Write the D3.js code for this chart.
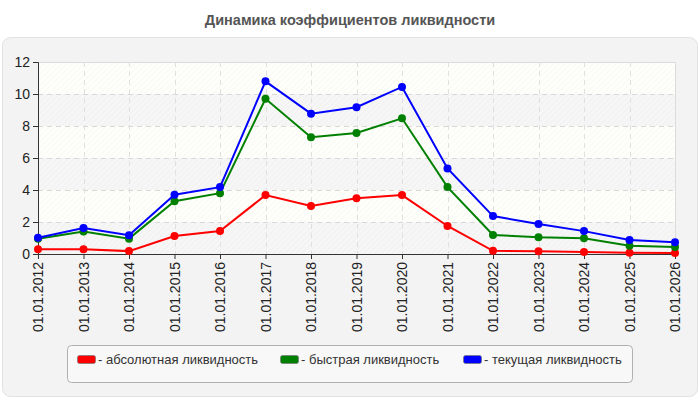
<!DOCTYPE html>
<html><head><meta charset="utf-8">
<script src="https://cdn.jsdelivr.net/npm/d3@7"></script>
<style>body{margin:0;background:#fff}svg{display:block;font-family:Arial,"Liberation Sans",sans-serif}</style>
</head><body><svg id="c" width="700" height="400"></svg>
<script>
const categories = ["01.01.2012","01.01.2013","01.01.2014","01.01.2015","01.01.2016","01.01.2017","01.01.2018","01.01.2019","01.01.2020","01.01.2021","01.01.2022","01.01.2023","01.01.2024","01.01.2025","01.01.2026"];
const absoluteLiq = [0.30,0.30,0.18,1.12,1.44,3.68,3.00,3.48,3.68,1.75,0.20,0.17,0.12,0.08,0.06];
const quickLiq    = [0.96,1.40,0.96,3.30,3.80,9.70,7.30,7.56,8.48,4.18,1.19,1.04,0.98,0.52,0.44];
const currentLiq  = [1.02,1.62,1.17,3.70,4.18,10.79,8.77,9.17,10.44,5.35,2.37,1.87,1.43,0.87,0.74];
const yTicks = [0,2,4,6,8,10,12];
const seriesNames = ["- абсолютная ликвидность","- быстрая ликвидность","- текущая ликвидность"];
const seriesColors = ["#ff0000","#008000","#0000ff"];
const title = "Динамика коэффициентов ликвидности";

const svg = d3.select("#c");
const L = 38, R = 675, T = 62, B = 254;
const FF = "Arial,'Liberation Sans',sans-serif";

const defs = svg.append("defs");
function hatch(id, bg, line){
  const p = defs.append("pattern").attr("id", id).attr("patternUnits","userSpaceOnUse")
    .attr("width",4).attr("height",4).attr("patternTransform","rotate(45)");
  p.append("rect").attr("width",4).attr("height",4).attr("fill",bg);
  p.append("line").attr("x1",0).attr("y1",0).attr("x2",0).attr("y2",4).attr("stroke",line).attr("stroke-width",1);
}
hatch("hA","#fefefa","#f5f5ee");
hatch("hB","#f6f6f6","#ececec");

// panel
svg.append("rect").attr("x",2.5).attr("y",37.5).attr("width",695).attr("height",359).attr("rx",8)
  .attr("fill","#f3f3f3").attr("stroke","#e2e2e2");

svg.append("text").attr("x",350).attr("y",25).attr("text-anchor","middle")
  .attr("font-size",14.5).attr("font-weight","bold").attr("fill","#555").text(title);

const x = d3.scalePoint().domain(categories).range([L,R]);
const y = d3.scaleLinear().domain([0,12]).range([B,T]);

// bands
const bands = d3.range(0,12,2);
svg.append("g").selectAll("rect").data(bands).join("rect")
  .attr("x",L).attr("width",R-L)
  .attr("y",d=>y(d+2)).attr("height",d=>y(d)-y(d+2))
  .attr("fill",d=> (d/2)%2===0 ? "url(#hB)" : "url(#hA)");

// border top/right
svg.append("path").attr("d",`M${L},${T+0.5}H${R+0.5}V${B}`).attr("fill","none").attr("stroke","#dcdcdc");

// grid
svg.append("g").selectAll("line").data(yTicks.filter(d=>d>0&&d<12)).join("line")
  .attr("x1",L).attr("x2",R).attr("y1",d=>Math.round(y(d))+0.5).attr("y2",d=>Math.round(y(d))+0.5)
  .attr("stroke","#d8d8d8").attr("stroke-dasharray","5,4");
svg.append("g").selectAll("line").data(categories.slice(1,-1)).join("line")
  .attr("y1",T).attr("y2",B).attr("x1",d=>Math.round(x(d))+0.5).attr("x2",d=>Math.round(x(d))+0.5)
  .attr("stroke","#e0e0e0").attr("stroke-dasharray","5,4");

// axes
const yAxis = svg.append("g").attr("transform",`translate(${L},0)`)
  .call(d3.axisLeft(y).tickValues(yTicks).tickSize(5).tickPadding(3));
yAxis.select(".domain").attr("stroke","#333");
yAxis.selectAll(".tick line").attr("stroke","#333");
yAxis.selectAll("text").attr("font-size",14).attr("fill","#222").attr("font-family",FF);

const xAxis = svg.append("g").attr("transform",`translate(0,${B})`)
  .call(d3.axisBottom(x).tickSize(5).tickSizeOuter(0));
xAxis.select(".domain").attr("stroke","#333");
xAxis.selectAll(".tick line").attr("stroke","#333");
xAxis.selectAll("text").attr("font-size",14).attr("fill","#222").attr("font-family",FF)
  .attr("transform","rotate(-90)").attr("text-anchor","end").attr("dx",0).attr("dy","0.35em").attr("x",-8).attr("y",0);

// series
const data = [absoluteLiq, quickLiq, currentLiq];
const line = d3.line().x((d,i)=>x(categories[i])).y(d=>y(d));
data.forEach((s,k)=>{
  const g = svg.append("g");
  g.append("path").datum(s).attr("d",line).attr("fill","none").attr("stroke",seriesColors[k]).attr("stroke-width",2);
  g.selectAll("circle").data(s).join("circle").attr("cx",(d,i)=>x(categories[i])).attr("cy",d=>y(d))
    .attr("r",4).attr("fill",seriesColors[k]);
});

// legend
svg.append("rect").attr("x",67.5).attr("y",345.5).attr("width",565).attr("height",37).attr("rx",4)
  .attr("fill","#f8f8f8").attr("stroke","#b0b0b0");
const legX = [77, 280, 463];
seriesNames.forEach((n,k)=>{
  svg.append("rect").attr("x",legX[k]+0.5).attr("y",355.5).attr("width",18).attr("height",8).attr("rx",2)
    .attr("fill",seriesColors[k]).attr("stroke","#777").attr("stroke-width",0.7);
  svg.append("text").attr("x",legX[k]+21).attr("y",364).attr("font-size",13).attr("fill","#333").attr("font-family",FF).text(n);
});
</script></body></html>
